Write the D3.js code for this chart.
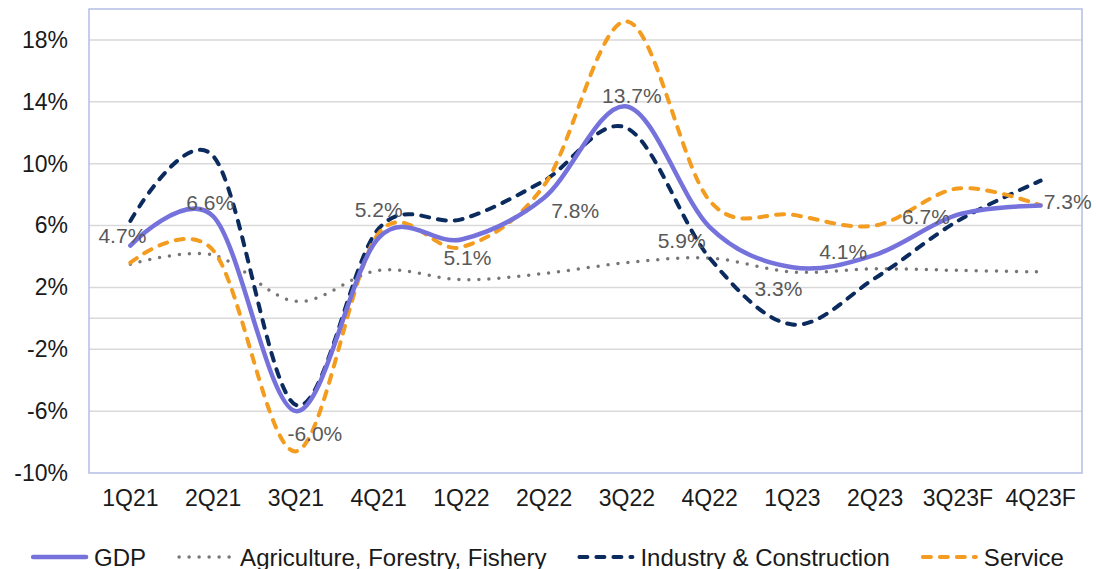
<!DOCTYPE html>
<html>
<head>
<meta charset="utf-8">
<script src="https://cdn.jsdelivr.net/npm/d3@7"></script>
<style>
  html, body { margin: 0; padding: 0; background: #fff; }
  svg { display: block; font-family: "Liberation Sans", Arial, sans-serif; }
</style>
</head>
<body>
<svg id="chart" width="1096" height="569"></svg>
<script>
// Quarterly growth, % year on year
const quarters = ["1Q21", "2Q21", "3Q21", "4Q21", "1Q22", "2Q22", "3Q22", "4Q22", "1Q23", "2Q23", "3Q23F", "4Q23F"];
const gdp         = [4.7, 6.6, -6.0, 5.2, 5.1, 7.8, 13.7, 5.9, 3.3, 4.1, 6.7, 7.3];
const agriculture = [3.5, 4.1, 1.1, 3.1, 2.5, 2.9, 3.6, 3.9, 3.0, 3.2, 3.1, 3.0];
const industry    = [6.3, 10.5, -5.6, 5.8, 6.4, 8.9, 12.3, 3.9, -0.4, 2.6, 6.3, 8.9];
const service     = [3.6, 4.4, -8.6, 5.5, 4.6, 8.6, 19.2, 7.6, 6.7, 6.0, 8.4, 7.3];
const yTicks = [-10, -6, -2, 2, 6, 10, 14, 18];
const seriesNames = ["GDP", "Agriculture, Forestry, Fishery", "Industry & Construction", "Service"];

// Hand placement of the GDP value labels, relative to each point (px)
const labelDx = [-8, -3, 19, 0, 6, 31, 5, -28, -14, -32, -32, 27];
const labelDy = [-10, -14, 22, -28, 18, 13, -11, 13, 21, -3, 2, -4];

const svg = d3.select("#chart");
const plot = { left: 89, right: 1082, top: 9, bottom: 473 };

const x = d3.scaleBand().domain(quarters).range([plot.left, plot.right]);
const y = d3.scaleLinear().domain([-10, 20]).range([plot.bottom, plot.top]);
const cx = q => x(q) + x.bandwidth() / 2;

// gridlines (plus the zero line)
svg.append("g")
  .selectAll("line")
  .data(yTicks.filter(v => v > -10).concat([0]))
  .join("line")
  .attr("x1", plot.left).attr("x2", plot.right)
  .attr("y1", d => y(d)).attr("y2", d => y(d))
  .attr("stroke", "#d9d9d9").attr("stroke-width", 1.5);

// plot frame
svg.append("rect")
  .attr("x", plot.left).attr("y", plot.top)
  .attr("width", plot.right - plot.left).attr("height", plot.bottom - plot.top)
  .attr("fill", "none").attr("stroke", "#b4bee6").attr("stroke-width", 1.5);

// y axis labels
const yAxis = d3.axisLeft(y).tickValues(yTicks).tickFormat(d => d + "%").tickSize(0).tickPadding(0);
const gy = svg.append("g").attr("transform", `translate(68,0)`).call(yAxis);
gy.select(".domain").remove();
gy.selectAll("text").attr("font-size", 23).attr("fill", "#1a1a1a")
  .attr("font-family", "Liberation Sans, Arial, sans-serif");

// x axis labels
const xAxis = d3.axisBottom(x).tickSize(0).tickPadding(0);
const gx = svg.append("g").attr("transform", `translate(0,490)`).call(xAxis);
gx.select(".domain").remove();
gx.selectAll("text").attr("font-size", 23).attr("fill", "#1a1a1a")
  .attr("font-family", "Liberation Sans, Arial, sans-serif");

const line = d3.line()
  .x((d, i) => cx(quarters[i]))
  .y(d => y(d))
  .curve(d3.curveCardinal.tension(0));

const styles = [
  { data: gdp,         color: "#7572dc", width: 4.5, dash: null,   cap: "round" },
  { data: agriculture, color: "#767676", width: 3.5, dash: "0,10", cap: "round" },
  { data: industry,    color: "#0b2a5e", width: 4,   dash: "8,9",  cap: "round" },
  { data: service,     color: "#f39c1f", width: 4,   dash: "8,9",  cap: "round" }
];

// draw order: agriculture, industry, service, GDP on top
[1, 2, 3, 0].forEach(k => {
  const s = styles[k];
  svg.append("path")
    .attr("d", line(s.data))
    .attr("fill", "none")
    .attr("stroke", s.color)
    .attr("stroke-width", s.width)
    .attr("stroke-linecap", s.cap)
    .attr("stroke-dasharray", s.dash);
});

// GDP value labels
svg.append("g")
  .selectAll("text")
  .data(gdp)
  .join("text")
  .attr("x", (d, i) => cx(quarters[i]) + labelDx[i])
  .attr("y", (d, i) => y(d) + labelDy[i])
  .attr("text-anchor", "middle")
  .attr("dominant-baseline", "central")
  .attr("font-size", 21)
  .attr("fill", "#595959")
  .text(d => d.toFixed(1) + "%");

// legend
const legend = svg.append("g");
let lx = 0;
const swatch = 57, gapText = 6, gapItem = 31, ly = 557;
seriesNames.forEach((name, k) => {
  const s = styles[k];
  const g = legend.append("g");
  g.append("line")
    .attr("x1", lx + 2).attr("x2", lx + swatch - 2)
    .attr("y1", ly).attr("y2", ly)
    .attr("stroke", s.color)
    .attr("stroke-width", s.width)
    .attr("stroke-linecap", s.cap)
    .attr("stroke-dasharray", s.dash);
  const t = g.append("text")
    .attr("x", lx + swatch + gapText)
    .attr("y", ly)
    .attr("dominant-baseline", "central")
    .attr("font-size", 24)
    .attr("fill", "#1a1a1a")
    .text(name);
  lx += swatch + gapText + t.node().getComputedTextLength() + gapItem;
});
const total = lx - gapItem;
legend.attr("transform", `translate(${(27 + 1068) / 2 - total / 2},0)`);
</script>
</body>
</html>
